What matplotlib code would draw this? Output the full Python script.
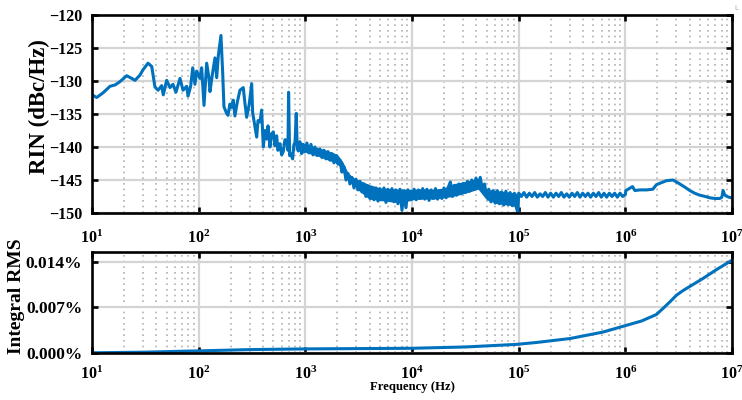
import numpy as np
import matplotlib
matplotlib.use("Agg")
import matplotlib.pyplot as plt
from matplotlib.ticker import LogLocator, FuncFormatter, NullFormatter

# ------------------------------------------
# Fonts / style
# ------------------------------------------

plt.rcParams["font.family"] = ["Liberation Serif", "DejaVu Serif"]
plt.rcParams["font.weight"] = "bold"
plt.rcParams["mathtext.fontset"] = "custom"
plt.rcParams["mathtext.rm"] = "Liberation Serif"
plt.rcParams["mathtext.bf"] = "Liberation Serif:bold"
plt.rcParams["mathtext.default"] = "bf"

BLUE = "#0072BD"

# ------------------------------------------
# Data
# ------------------------------------------

# RIN spectrum: log10(frequency) and dBc/Hz
rin_logf = [
    1.000, 1.044, 1.103, 1.169, 1.216, 1.262, 1.325, 1.372, 1.403, 1.450,
    1.478, 1.525, 1.560, 1.590, 1.619, 1.653, 1.668, 1.700, 1.731, 1.759,
    1.787, 1.825, 1.853, 1.888, 1.900, 1.925, 1.944, 1.965, 1.981, 2.012,
    2.028, 2.050, 2.075, 2.097, 2.106, 2.131, 2.153, 2.169, 2.184, 2.209,
    2.225, 2.237, 2.262, 2.275, 2.293, 2.309, 2.324, 2.340, 2.362, 2.387,
    2.418, 2.434, 2.450, 2.474, 2.497, 2.506, 2.528, 2.544, 2.556, 2.575,
    2.590, 2.606, 2.621, 2.637, 2.650, 2.668, 2.684, 2.700, 2.715, 2.731,
    2.743, 2.762, 2.778, 2.793, 2.809, 2.825, 2.837, 2.843, 2.853, 2.862,
    2.881, 2.893, 2.903, 2.915, 2.924, 2.934, 2.949, 2.965, 2.978, 2.996,
    3.015, 3.034, 3.053, 3.072, 3.090, 3.109, 3.137, 3.156, 3.175, 3.193,
    3.212, 3.231, 3.249, 3.268, 3.287, 3.306, 3.324, 3.343, 3.362, 3.381,
    3.400, 3.418, 3.437, 3.456, 3.475, 3.493, 3.512, 3.531, 3.550, 3.568,
    3.587, 3.606, 3.624, 3.643, 3.662, 3.681, 3.699, 3.718, 3.737, 3.756,
    3.774, 3.793, 3.812, 3.831, 3.849, 3.868, 3.887, 3.906, 3.925, 3.943,
    3.962, 3.981,
    4.00, 4.02, 4.04, 4.06, 4.08, 4.10, 4.12, 4.14, 4.16, 4.18,
    4.20, 4.22, 4.24, 4.26, 4.28, 4.30, 4.32, 4.34, 4.36, 4.38,
    4.40, 4.42, 4.44, 4.46, 4.48, 4.50, 4.52, 4.54, 4.56, 4.58,
    4.60, 4.62, 4.64, 4.66, 4.68, 4.70, 4.72, 4.74, 4.76, 4.78,
    4.80, 4.82, 4.84, 4.86, 4.88, 4.90, 4.92, 4.94, 4.96, 4.98,
    4.993, 5.000,
    5.025, 5.050, 5.075, 5.100, 5.125, 5.150, 5.175, 5.200, 5.225, 5.250,
    5.275, 5.300, 5.325, 5.350, 5.375, 5.400, 5.425, 5.450, 5.475, 5.500,
    5.525, 5.550, 5.575, 5.600, 5.625, 5.650, 5.675, 5.700, 5.725, 5.750,
    5.775, 5.800, 5.825, 5.850, 5.875, 5.900, 5.925, 5.950, 5.975, 6.000,
    6.005, 6.067, 6.090, 6.136, 6.200, 6.258, 6.292, 6.340, 6.386, 6.448,
    6.511, 6.560, 6.605, 6.650, 6.698, 6.750, 6.792, 6.840, 6.886, 6.905,
    6.917, 6.930, 6.942, 6.970, 7.000,
]

rin_db = [
    -132.1, -132.5, -131.8, -130.8, -130.6, -130.1, -129.2, -129.6, -129.9, -129.1,
    -128.3, -127.3, -127.8, -130.9, -131.4, -130.7, -132.1, -129.9, -131.0, -130.5,
    -131.7, -129.6, -131.4, -130.8, -132.3, -130.8, -128.0, -130.5, -128.5, -129.6,
    -128.0, -133.7, -127.3, -129.6, -131.6, -128.7, -126.5, -129.5, -126.2, -123.1,
    -128.7, -133.9, -134.9, -135.2, -133.5, -134.0, -132.9, -135.3, -133.2, -131.4,
    -131.0, -133.4, -135.5, -133.5, -130.4, -134.8, -137.0, -138.5, -136.0, -136.2,
    -134.4, -140.0, -137.5, -138.8, -136.8, -140.0, -138.0, -137.7, -139.8, -138.3,
    -140.5, -139.5, -141.2, -140.7, -138.9, -139.0, -140.5, -131.7, -141.3, -141.0,
    -141.8, -139.6, -139.5, -134.9, -140.2, -140.6, -139.2, -141.0, -139.6, -140.5,
    -139.4, -140.9, -139.6, -141.2, -140.0, -141.3, -140.3, -141.6, -140.5, -141.8,
    -140.7, -142.0, -141.0, -142.4, -141.3, -142.6, -142.0, -143.8, -143.0, -145.0,
    -144.0, -145.6, -144.6, -146.2, -144.9, -146.5, -145.2, -146.8, -145.6, -147.5,
    -145.9, -147.8, -146.1, -148.0, -146.2, -148.2, -146.3, -148.0, -146.2, -148.4,
    -146.4, -148.1, -146.3, -148.3, -146.5, -148.6, -146.4, -149.6, -146.6, -149.2,
    -146.5, -148.0,
    -147.9, -146.4, -148.0, -146.5, -147.8, -146.3, -147.9, -146.4, -148.1, -146.5,
    -147.8, -146.3, -147.9, -146.6, -147.8, -146.2, -147.7, -146.1, -145.3, -147.5,
    -145.8, -147.3, -145.6, -147.1, -145.5, -146.9, -145.2, -146.7, -145.0, -146.4,
    -144.7, -146.0, -144.6, -146.5, -145.6, -147.6, -146.4, -148.3, -146.6, -148.5,
    -146.6, -148.6, -146.8, -148.8, -146.7, -148.7, -146.9, -148.9, -147.0, -149.3,
    -149.9, -147.0,
    -147.5, -146.9, -147.6, -147.0, -147.5, -146.9, -147.6, -147.1, -147.5, -146.9,
    -147.6, -147.0, -147.6, -147.0, -147.5, -146.9, -147.6, -147.1, -147.6, -147.0,
    -147.5, -146.9, -147.6, -147.0, -147.5, -147.0, -147.6, -147.0, -147.5, -146.9,
    -147.6, -147.0, -147.6, -147.0, -147.5, -147.0, -147.6, -147.0, -147.5, -147.2,
    -146.6, -146.0, -146.6, -146.5, -146.5, -146.4, -145.7, -145.4, -145.1, -145.0,
    -145.6, -146.1, -146.6, -147.0, -147.3, -147.5, -147.7, -147.8, -147.8, -147.6,
    -146.6, -147.2, -147.4, -147.6, -147.7,
]

# envelope of the dense noise band between 1 kHz and 100 kHz
band_logf = [2.95, 3.00, 3.10, 3.20, 3.30, 3.35, 3.40, 3.45, 3.50, 3.60,
             3.70, 3.80, 3.90, 4.00, 4.10, 4.20, 4.30, 4.38, 4.50, 4.62,
             4.70, 4.80, 4.90, 4.98]
band_hi = [-139.3, -139.5, -140.0, -140.5, -141.1, -142.2, -143.9, -144.6, -145.0, -145.7,
           -146.2, -146.3, -146.4, -146.4, -146.3, -146.4, -146.2, -145.6, -145.2, -144.7,
           -146.4, -146.6, -146.8, -147.0]
band_lo = [-141.0, -140.8, -141.3, -141.9, -142.5, -143.5, -144.8, -145.8, -146.6, -147.9,
           -148.1, -148.3, -148.5, -148.0, -147.9, -147.9, -147.7, -147.5, -147.0, -146.4,
           -148.0, -148.6, -148.8, -149.0]

# Integrated RMS noise: log10(frequency) and value in %
rms_logf = [1.0, 1.5, 2.0, 2.5, 3.0, 3.5, 4.0, 4.5, 4.98, 5.17,
            5.48, 5.79, 5.98, 6.15, 6.29, 6.35, 6.42, 6.48, 6.54, 6.60,
            6.73, 6.85, 6.98, 7.0]
rms_pct = [0.0, 0.0001, 0.0003, 0.0005, 0.0006, 0.00065, 0.0007, 0.0009, 0.0013, 0.0016,
           0.0022, 0.0032, 0.0041, 0.0049, 0.0059, 0.0068, 0.0079, 0.0089, 0.0096, 0.0102,
           0.0115, 0.0128, 0.0141, 0.0143]

rin_freq = np.power(10.0, rin_logf)
band_freq = np.power(10.0, band_logf)
rms_freq = np.power(10.0, rms_logf)

# ------------------------------------------
# Figure
# ------------------------------------------

fig = plt.figure(figsize=(7.42, 4.0), dpi=100)
ax1 = fig.add_axes([0.124, 0.4675, 0.8625, 0.495])
ax2 = fig.add_axes([0.124, 0.118, 0.8625, 0.2525])


def style_axis(ax, xpad, ysize):
    ax.set_xscale("log")
    ax.set_xlim(1e1, 1e7)
    ax.xaxis.set_major_locator(LogLocator(base=10, numticks=10))
    ax.xaxis.set_minor_locator(LogLocator(base=10, subs=np.arange(2, 10), numticks=20))
    ax.xaxis.set_minor_formatter(NullFormatter())
    ax.grid(True, which="major", color="#d4d4d4", linewidth=1.6, linestyle="-")
    ax.grid(True, which="minor", axis="x", color="#b0b0b0", linewidth=1.2,
            linestyle=(0, (1.0, 2.4)))
    ax.set_axisbelow(True)
    for s in ax.spines.values():
        s.set_linewidth(1.9)
    ax.tick_params(which="major", direction="in", length=4, width=1.9,
                   top=True, right=True)
    ax.tick_params(axis="x", which="major", labelsize=11.5, pad=xpad)
    ax.tick_params(axis="y", which="major", labelsize=ysize, pad=7)
    ax.tick_params(which="minor", length=0)


# ------------------------------------------
# RIN spectrum
# ------------------------------------------

ax1.fill_between(band_freq, band_lo, band_hi, color=BLUE, linewidth=0)
ax1.plot(rin_freq, rin_db, color=BLUE, linewidth=2.2, solid_joinstyle="round")
style_axis(ax1, 12, 11.5)
ax1.set_ylim(-150, -120)
ax1.set_yticks([-150, -145, -140, -135, -130, -125, -120])
ax1.set_ylabel("RIN (dBc/Hz)", fontsize=16.5, fontweight="bold")
ax1.yaxis.set_label_coords(-0.066, 0.54)

# ------------------------------------------
# Integrated RMS
# ------------------------------------------

ax2.plot(rms_freq, rms_pct, color=BLUE, linewidth=2.2)
style_axis(ax2, 9, 12.5)
ax2.set_ylim(0, 0.0156)
ax2.set_yticks([0.0, 0.007, 0.014])
ax2.yaxis.set_major_formatter(FuncFormatter(lambda v, p: f"{v:.3f}%"))
ax2.set_ylabel("Integral RMS", fontsize=14.0, fontweight="bold")
ax2.yaxis.set_label_coords(-0.104, 0.56)
ax2.set_xlabel("Frequency (Hz)", fontsize=9.2, fontweight="bold", labelpad=-1)

fig.text(0.992, 0.98, "L", fontsize=5, color="#aaaaaa", ha="center", va="center",
         fontweight="normal", family="DejaVu Sans")

fig.savefig("out.png", dpi=100)
